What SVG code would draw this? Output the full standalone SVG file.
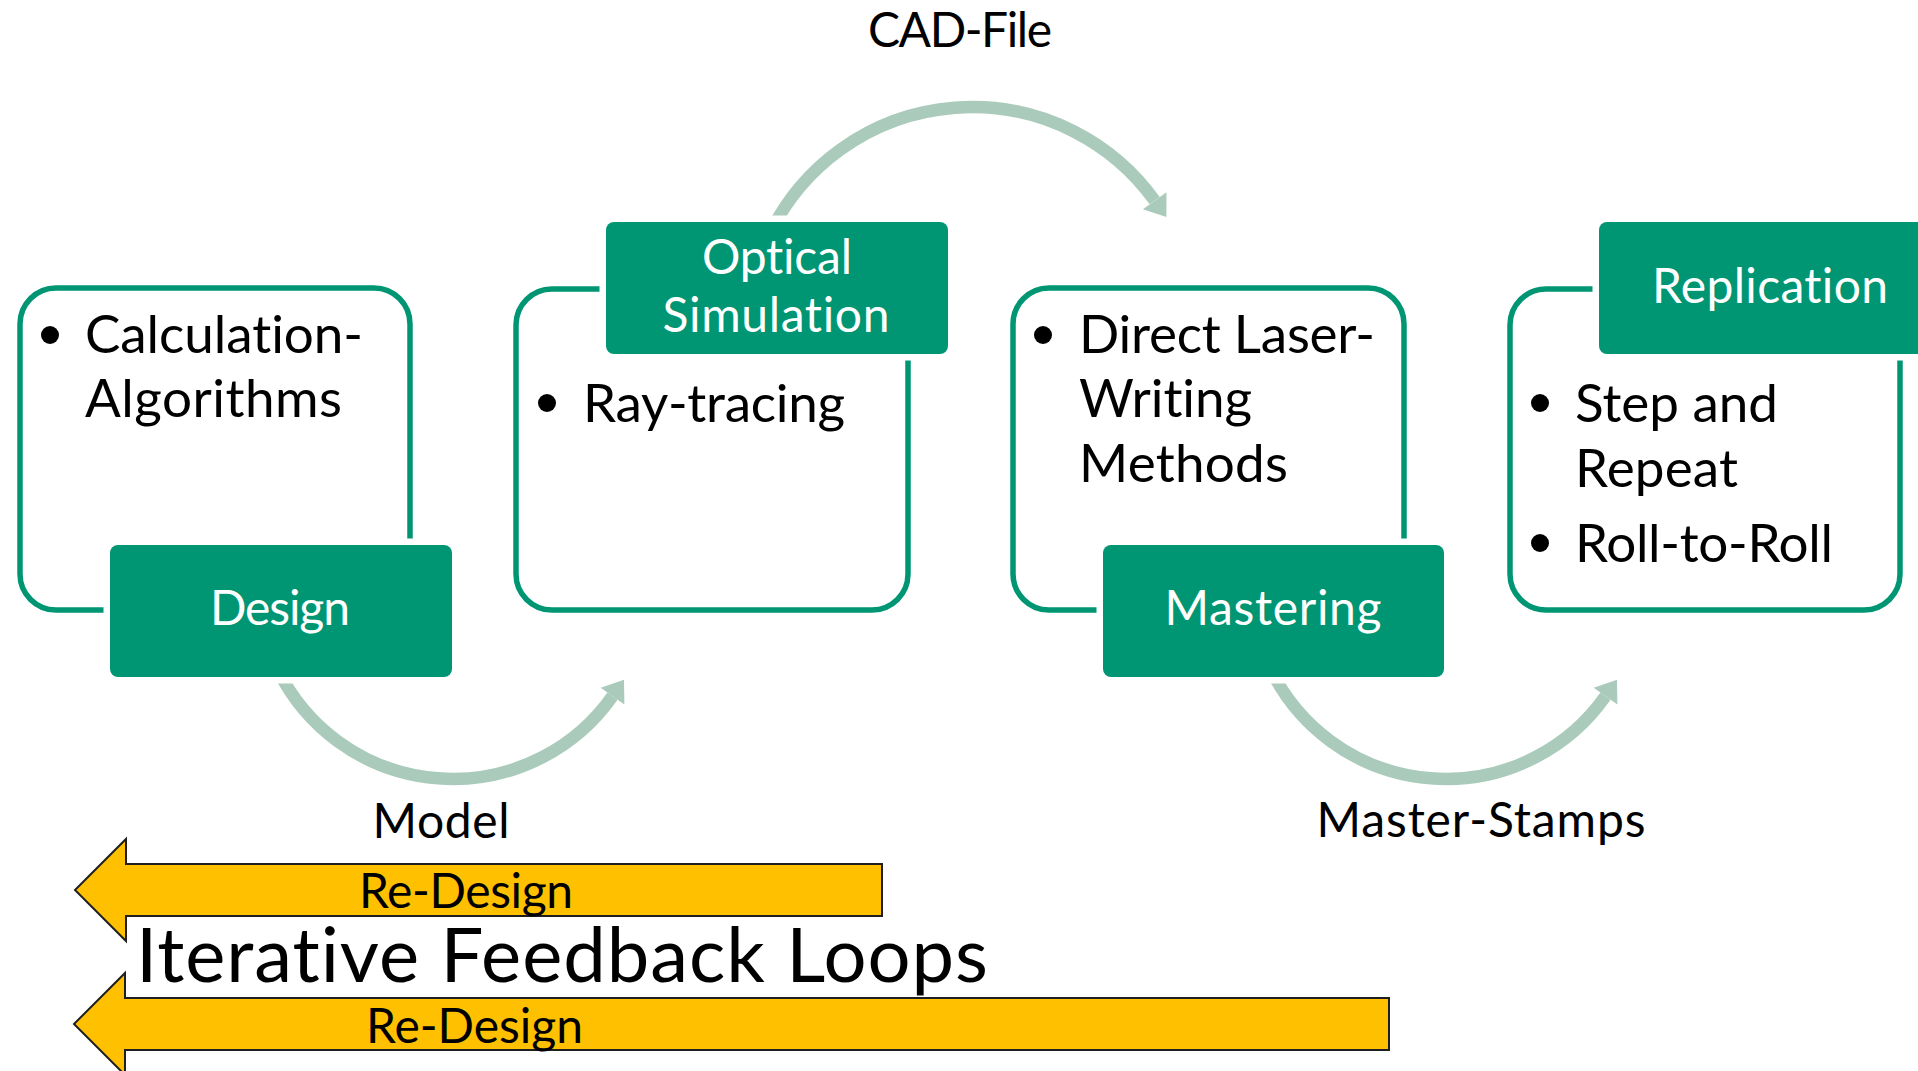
<svg xmlns="http://www.w3.org/2000/svg" width="1918" height="1071" viewBox="0 0 1918 1071">
<style>
text{font-variant-ligatures:none;font-feature-settings:"liga" 0,"clig" 0}
.outline{fill:none;stroke:#009673;stroke-width:5.5}
.halo{fill:#ffffff}
.label{fill:#009673}
.lt{font-family:Lato,'Liberation Sans',sans-serif;fill:#ffffff;font-size:48px;text-anchor:middle}
.bt{font-family:Lato,'Liberation Sans',sans-serif;fill:#000000;font-size:53px}
.ct{font-family:Lato,'Liberation Sans',sans-serif;fill:#000000;font-size:48px;text-anchor:middle}
.arc{fill:none;stroke:#AACBBB;stroke-width:12.5;marker-end:url(#ah)}
.fb{fill:#FFC000;stroke:#1f1f1f;stroke-width:2}
.bul{fill:#000000}
</style>
<defs>
<marker id="ah" markerUnits="userSpaceOnUse" markerWidth="40" markerHeight="40" viewBox="-2 -20 30 40" refX="0" refY="0" orient="auto">
<path d="M0,-14.5 L20,0 L0,14.5 Z" fill="#AACBBB"/>
</marker>
</defs>
<rect width="1918" height="1071" fill="#ffffff"/>

<g id="connectors">
<path id="c-cad" class="arc" d="M771.5,230 A225,225 0 0 1 1154.7,200.7"/>
<text class="ct" x="960" y="47" textLength="184">CAD-File</text>
<path id="c-model" class="arc" d="M278,670 A195,195 0 0 0 612.5,696.1"/>
<text class="ct" x="441" y="838" textLength="137">Model</text>
<path id="c-master" class="arc" d="M1271,670 A195,195 0 0 0 1605.5,696.1"/>
<text class="ct" x="1481" y="837" textLength="329">Master-Stamps</text>
</g>

<g id="node-design">
<rect class="outline" x="20" y="288" width="390" height="322" rx="36"/>
<rect class="halo" x="103.5" y="538.5" width="355" height="145" rx="12"/>
<rect class="label" x="110" y="545" width="342" height="132" rx="8"/>
<text class="lt" x="280" y="625" textLength="140">Design</text>
<circle class="bul" cx="50" cy="335" r="9"/>
<text class="bt" x="85" y="353" textLength="278">Calculation-</text>
<text class="bt" x="85" y="417" textLength="257">Algorithms</text>
</g>

<g id="node-optical">
<rect class="outline" x="516" y="289" width="392" height="321" rx="36"/>
<rect class="halo" x="599.5" y="215.5" width="355" height="145" rx="12"/>
<rect class="label" x="606" y="222" width="342" height="132" rx="8"/>
<text class="lt" x="777" y="274" textLength="150">Optical</text>
<text class="lt" x="776" y="332" textLength="227">Simulation</text>
<circle class="bul" cx="547" cy="403" r="9"/>
<text class="bt" x="583" y="422" textLength="262">Ray-tracing</text>
</g>

<g id="node-mastering">
<rect class="outline" x="1013" y="288" width="391" height="322" rx="36"/>
<rect class="halo" x="1096.5" y="538.5" width="354" height="145" rx="12"/>
<rect class="label" x="1103" y="545" width="341" height="132" rx="8"/>
<text class="lt" x="1273" y="625" textLength="217">Mastering</text>
<circle class="bul" cx="1043" cy="335" r="9"/>
<text class="bt" x="1079" y="353" textLength="296">Direct Laser-</text>
<text class="bt" x="1079" y="417" textLength="173">Writing</text>
<text class="bt" x="1079" y="482" textLength="209">Methods</text>
</g>

<g id="node-replication">
<rect class="outline" x="1510" y="289" width="390" height="321" rx="36"/>
<rect class="halo" x="1592.5" y="215.5" width="355" height="145" rx="12"/>
<rect class="label" x="1599" y="222" width="342" height="132" rx="8"/>
<text class="lt" x="1770" y="303" textLength="236">Replication</text>
<circle class="bul" cx="1540" cy="403" r="9"/>
<text class="bt" x="1575" y="422" textLength="203">Step and</text>
<text class="bt" x="1575" y="487" textLength="163">Repeat</text>
<circle class="bul" cx="1540" cy="543" r="9"/>
<text class="bt" x="1575" y="562" textLength="258">Roll-to-Roll</text>
</g>

<g id="feedback-short">
<path class="fb" d="M882,864 L126,864 L126,839 L75,890 L126,941 L126,916 L882,916 Z"/>
<text class="ct" x="466" y="908" textLength="214">Re-Design</text>
</g>

<g id="feedback-long">
<path class="fb" d="M1389,998 L125,998 L125,973 L74,1024 L125,1075 L125,1050 L1389,1050 Z"/>
<text class="ct" x="474.5" y="1043" textLength="217">Re-Design</text>
</g>

<g id="title">
<text x="136" y="982" style="font-family:Lato,'Liberation Sans',sans-serif;font-size:76px;fill:#000000" textLength="852">Iterative Feedback Loops</text>
</g>
</svg>
